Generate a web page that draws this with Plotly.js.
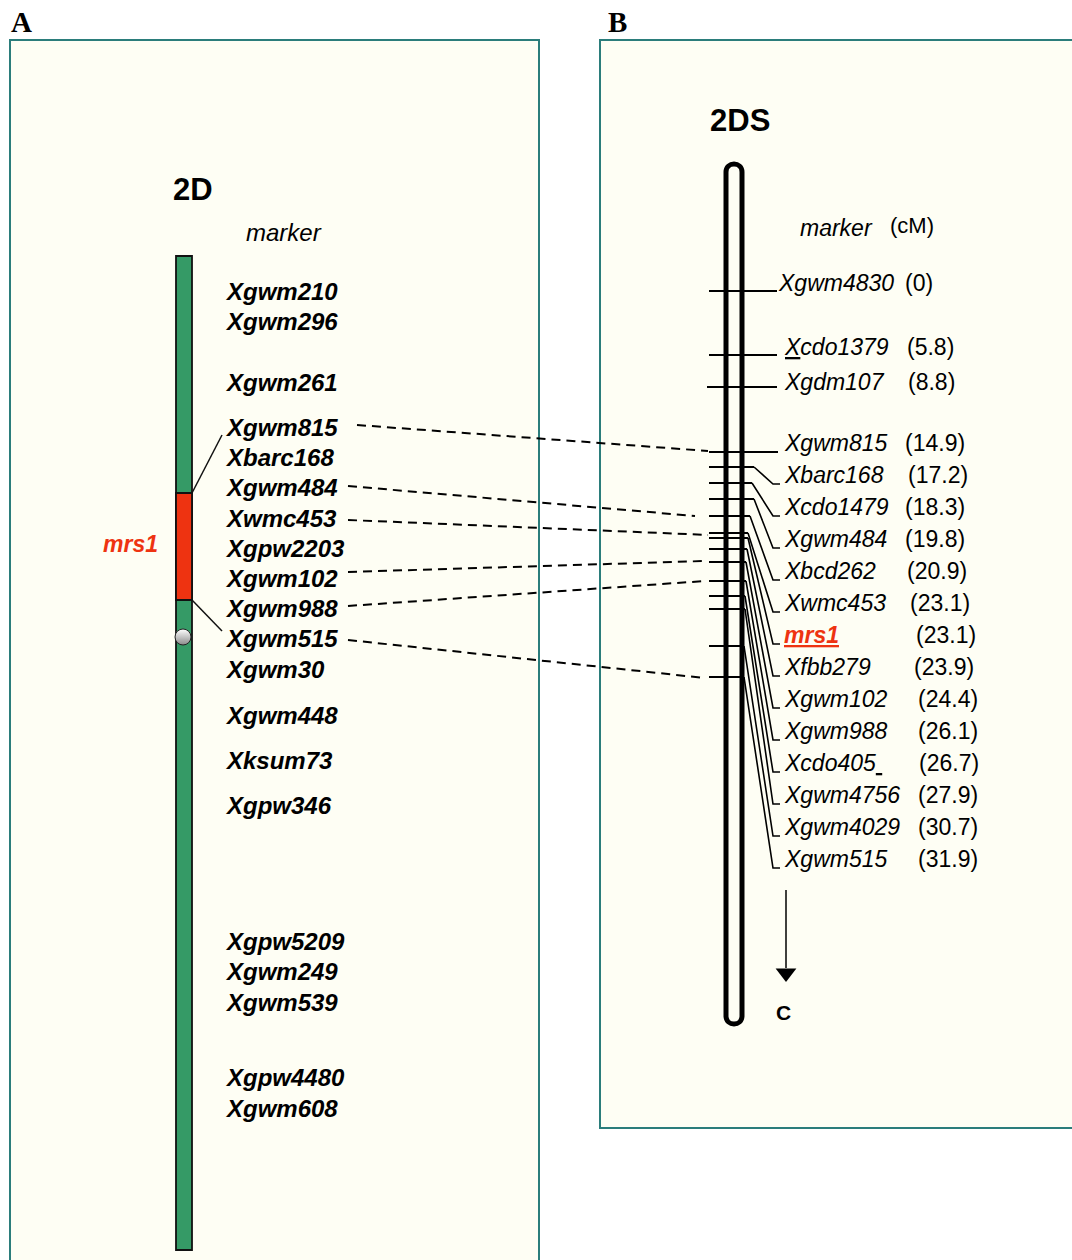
<!DOCTYPE html>
<html><head><meta charset="utf-8">
<script src="https://cdn.plot.ly/plotly-3.0.1.min.js"></script>
<style>html,body{margin:0;padding:0;background:#fff}#chart{width:1072px;height:1260px}</style>
</head><body><div id="chart"></div>
<script>
// ---------- Panel A: chromosome 2D markers (schematic order) ----------
const markersA = ['Xgwm210','Xgwm296','Xgwm261','Xgwm815','Xbarc168','Xgwm484','Xwmc453','Xgpw2203','Xgwm102','Xgwm988','Xgwm515','Xgwm30','Xgwm448','Xksum73','Xgpw346','Xgpw5209','Xgwm249','Xgwm539','Xgpw4480','Xgwm608'];
const posA = [291,321,382,427,457,487,518,548,578,608,638,669,715,760,805,941,971,1002,1077,1108];

// ---------- Panel B: 2DS genetic map ----------
const markersB = ['Xgwm4830','Xcdo1379','Xgdm107','Xgwm815','Xbarc168','Xcdo1479','Xgwm484','Xbcd262','Xwmc453','mrs1','Xfbb279','Xgwm102','Xgwm988','Xcdo405','Xgwm4756','Xgwm4029','Xgwm515'];
const cM = [0,5.8,8.8,14.9,17.2,18.3,19.8,20.9,23.1,23.1,23.9,24.4,26.1,26.7,27.9,30.7,31.9];
const labelPosB = [283,347,382,443,475,507,539,571,603,635,667,699,731,763,795,827,859];
const tickPosB = [291,355,387,452,467,483,499,516,533,538,549,562,581,596,609,646,677];
const tickLeftX = [709,709,707,709,709,709,709,709,709,709,709,709,709,709,709,709,709];
const tickRightX = [777,777,777,778,754,752,754,750,748,748,747,746,746,745,745,744,744];
const cmTextX = [903,905,906,903,906,903,903,905,908,914,912,916,916,917,916,916,916];

// ---------- Links between panels (shared markers) ----------
const linkMarkers = ['Xgwm815','Xgwm484','Xwmc453','Xgwm102','Xgwm988','Xgwm515'];
const linkStartX = [357,348,348,348,348,348];
const linkStartY = [425,486,520,572,606,640];
const linkEndX = [708,695,708,705,705,705];
const linkEndY = [451,516,535,561,581,678];

// mrs1 interval on 2D
const mrs1A = [493,600];

const GREEN = '#359a66', RED = '#ee3311', TEAL = '#2b7d7b', IVORY = '#fefef4';
const SANS = 'Liberation Sans, Arial, sans-serif';

const traces = [];
const shapes = [];
const ann = [];

// panel boxes
shapes.push({type:'rect',xref:'x',yref:'y',x0:10,x1:539,y0:40,y1:1275,fillcolor:IVORY,line:{color:TEAL,width:2},layer:'below'});
shapes.push({type:'rect',xref:'x',yref:'y',x0:600,x1:1085,y0:40,y1:1128,fillcolor:IVORY,line:{color:TEAL,width:2},layer:'below'});

// Chromosome 2D
shapes.push({type:'rect',xref:'x',yref:'y',x0:176,x1:192,y0:256,y1:1250,fillcolor:GREEN,line:{color:'#111',width:1.8},layer:'below'});
shapes.push({type:'rect',xref:'x',yref:'y',x0:176,x1:192,y0:mrs1A[0],y1:mrs1A[1],fillcolor:RED,line:{color:'#111',width:1.8},layer:'below'});
// lines from mrs1 interval to flanking markers
traces.push({x:[192,222,null,192,222],y:[mrs1A[0],posA[3]+8,null,mrs1A[1],posA[10]-7],mode:'lines',line:{color:'#111',width:1.5},hoverinfo:'skip'});
// centromere
traces.push({x:[183],y:[637],mode:'markers',marker:{size:16,color:'#ffffff',gradient:{type:'vertical',color:'#8a8a8a'},line:{color:'#222',width:1}},hoverinfo:'skip'});

// Chromosome 2DS outline (rounded)
const cxL=726, cxR=742, chrTop=164, chrBot=1024, rr=8, kk=10.67;
shapes.push({type:'path',xref:'x',yref:'y',
  path:`M${cxL},${chrBot-rr} L${cxL},${chrTop+rr} C${cxL},${chrTop+rr-kk} ${cxR},${chrTop+rr-kk} ${cxR},${chrTop+rr} L${cxR},${chrBot-rr} C${cxR},${chrBot-rr+kk} ${cxL},${chrBot-rr+kk} ${cxL},${chrBot-rr} Z`,
  line:{color:'#000',width:5},fillcolor:'rgba(0,0,0,0)'});

// ticks and connectors in panel B
const tx=[], ty=[], cx=[], cy=[];
for (let i=0;i<markersB.length;i++){
  tx.push(tickLeftX[i], tickRightX[i], null);
  ty.push(tickPosB[i], tickPosB[i], null);
  if (i>=4){
    const ey = labelPosB[i]+9;
    cx.push(tickRightX[i], 773, 780, null);
    cy.push(tickPosB[i], ey, ey, null);
  }
}
traces.push({x:tx,y:ty,mode:'lines',line:{color:'#000',width:2},hoverinfo:'skip'});
traces.push({x:cx,y:cy,mode:'lines',line:{color:'#000',width:1.6},hoverinfo:'skip'});

// dashed links
const lx=[], ly=[];
for (let i=0;i<linkMarkers.length;i++){ lx.push(linkStartX[i],linkEndX[i],null); ly.push(linkStartY[i],linkEndY[i],null); }
traces.push({x:lx,y:ly,mode:'lines',line:{color:'#000',width:2,dash:'9px,6px'},hoverinfo:'skip'});

// arrow toward centromere
traces.push({x:[786,786],y:[890,968],mode:'lines',line:{color:'#000',width:1.5},hoverinfo:'skip'});
traces.push({x:[786],y:[973],mode:'markers',marker:{symbol:'triangle-down',size:18,color:'#000'},hoverinfo:'skip'});

// ---------- text ----------
function t(x,y,text,size,opts){
  ann.push(Object.assign({xref:'x',yref:'y',x:x,y:y,text:text,showarrow:false,xanchor:'left',yanchor:'middle',
    font:{family:SANS,size:size,color:'#000'}},opts||{}));
}
t(9,22,'<b>A</b>',29,{font:{family:'Liberation Serif, Times New Roman, serif',size:29,color:'#000'}});
t(606,22,'<b>B</b>',29,{font:{family:'Liberation Serif, Times New Roman, serif',size:29,color:'#000'}});
t(193,189,'<b>2D</b>',31,{xanchor:'center'});
t(284,232,'<i>marker</i>',24,{xanchor:'center'});
t(130,544,'<b><i>mrs1</i></b>',23,{xanchor:'center',font:{family:SANS,size:23,color:RED}});
for (let i=0;i<markersA.length;i++) t(223,posA[i],'<b><i>'+markersA[i]+'</i></b>',24);

t(740,120,'<b>2DS</b>',31,{xanchor:'center'});
t(836,228,'<i>marker</i>',23,{xanchor:'center'});
t(888,225,'(cM)',22);
for (let i=0;i<markersB.length;i++){
  let name = markersB[i];
  let txt, col='#000';
  if (name==='mrs1'){ txt='<b><i><u>mrs1</u></i></b>'; col=RED; }
  else if (name==='Xcdo1379'){ txt='<i><u>X</u>cdo1379</i>'; }
  else if (name==='Xcdo405'){ txt='<i>Xcdo405<u>\u00a0</u></i>'; }
  else txt='<i>'+name+'</i>';
  t(i===0?776:782,labelPosB[i],txt,23,{font:{family:SANS,size:23,color:col}});
  t(cmTextX[i],labelPosB[i],'('+cM[i]+')',23);
}
t(783,1012,'<b>C</b>',21,{xanchor:'center'});

const layout = {
  width:1072,height:1260,margin:{l:0,r:0,t:0,b:0},
  paper_bgcolor:'#ffffff',plot_bgcolor:'#ffffff',showlegend:false,
  xaxis:{range:[0,1072],visible:false,fixedrange:true},
  yaxis:{range:[1260,0],visible:false,fixedrange:true},
  shapes:shapes,annotations:ann
};
Plotly.newPlot('chart',traces,layout,{staticPlot:true,displayModeBar:false});
</script></body></html>
